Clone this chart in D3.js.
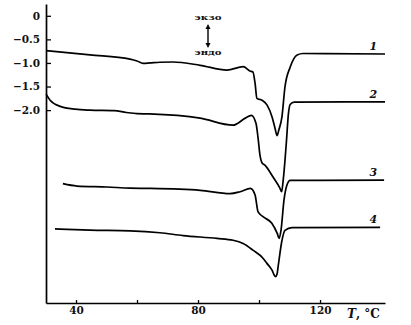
<!DOCTYPE html>
<html>
<head>
<meta charset="utf-8">
<script src="https://cdn.jsdelivr.net/npm/d3@7/dist/d3.min.js"></script>
<style>
  html, body { margin: 0; padding: 0; background: #fff; }
  svg { display: block; }
  .lbl { font-family: "DejaVu Serif", "Liberation Serif", serif; font-weight: bold; fill: #111; }
</style>
</head>
<body>
<script>
// ---- data (temperature, °C ; signal) ----
const curve1T = [30.2, 44.6, 57.7, 60.0, 62.0, 64.3, 67.5, 71.8, 80.7, 89.5, 94.8, 97.0, 98.0, 98.7, 99.3, 101.0, 102.6, 104.3, 105.3, 105.9, 106.5, 107.5, 108.5, 110.2, 112.5, 114.4, 141.3];
const curve1V = [-0.74, -0.83, -0.92, -0.96, -1.01, -1.00, -0.985, -0.98, -1.05, -1.15, -1.08, -1.17, -1.19, -1.43, -1.75, -1.79, -1.89, -2.15, -2.40, -2.54, -2.42, -2.15, -1.51, -1.09, -0.83, -0.80, -0.81];

const curve2T = [30.2, 31.5, 34.8, 39.7, 44.6, 52.5, 56.5, 60.0, 64.0, 80.7, 91.5, 95.5, 97.5, 99.0, 99.7, 100.3, 101.0, 102.0, 104.6, 106.8, 107.4, 107.9, 109.0, 109.6, 110.2, 111.5, 141.3];
const curve2V = [-1.66, -1.79, -1.92, -1.98, -2.00, -2.01, -2.05, -2.075, -2.08, -2.17, -2.32, -2.17, -2.11, -2.28, -2.60, -2.95, -3.12, -3.17, -3.42, -3.65, -3.73, -3.50, -2.65, -2.10, -1.88, -1.83, -1.824];

const curve3T = [35.7, 40.3, 50.2, 57.7, 64.3, 80.7, 90.5, 93.8, 97.2, 98.7, 99.7, 101.3, 104.2, 106.0, 106.6, 107.2, 108.2, 109.1, 110.2, 141.0];
const curve3V = [-3.56, -3.61, -3.63, -3.655, -3.66, -3.70, -3.77, -3.73, -3.66, -3.80, -4.16, -4.26, -4.40, -4.62, -4.72, -4.55, -3.90, -3.60, -3.49, -3.485];

const curve4T = [33.1, 44.6, 57.7, 67.5, 75.1, 86.2, 91.5, 94.8, 98.0, 101.3, 102.6, 104.3, 105.0, 105.4, 105.9, 106.3, 107.5, 108.5, 110.8, 139.7];
const curve4V = [-4.52, -4.545, -4.56, -4.60, -4.66, -4.72, -4.76, -4.83, -4.97, -5.14, -5.25, -5.40, -5.50, -5.53, -5.48, -5.30, -4.77, -4.55, -4.49, -4.488];

const curveNames = ["1", "2", "3", "4"];
const xTickValues = [40, 60, 80, 100, 120];
const xTickLabels = ["40", "", "80", "", "120"];
const yTickValues = [0, -0.5, -1.0, -1.5, -2.0];
const yTickLabels = ["0", "\u22120.5", "\u22121.0", "\u22121.5", "\u22122.0"];
const xTitle = ["T", ", \u00B0C"];
const exoLabel = "\u044D\u043A\u0437\u043E";
const endoLabel = "\u044D\u043D\u0434\u043E";

// ---- drawing ----
const W = 411, H = 325;
const svg = d3.select("body").append("svg").attr("width", W).attr("height", H);

const x = d3.scaleLinear().domain([30.16, 141.3]).range([46, 385]);
const y = d3.scaleLinear().domain([0.25, -6.09]).range([4, 303]);

const series = [[curve1T, curve1V], [curve2T, curve2V], [curve3T, curve3V], [curve4T, curve4V]]
  .map(([t, v]) => t.map((tt, i) => [tt, v[i]]));

const line = d3.line().x(d => x(d[0])).y(d => y(d[1])).curve(d3.curveMonotoneX);

svg.append("g").selectAll("path").data(series).join("path")
  .attr("d", line).attr("fill", "none").attr("stroke", "#000")
  .attr("stroke-width", 1.7).attr("stroke-linejoin", "round");

// axes
const xAxis = d3.axisBottom(x).tickValues(xTickValues)
  .tickFormat((d, i) => xTickLabels[i]).tickSizeInner(-3).tickSizeOuter(0).tickPadding(4);
const gx = svg.append("g").attr("transform", `translate(0,${y(-6.09)})`).call(xAxis);

const yAxis = d3.axisLeft(y).tickValues(yTickValues)
  .tickFormat((d, i) => yTickLabels[i]).tickSizeInner(-5).tickSizeOuter(0).tickPadding(6);
const gy = svg.append("g").attr("transform", `translate(${x(30.16)},0)`).call(yAxis);

[gx, gy].forEach(g => {
  g.select(".domain").attr("stroke", "#000").attr("stroke-width", 1.7);
  g.selectAll(".tick line").attr("stroke", "#000").attr("stroke-width", 1.3);
  g.selectAll(".tick text").attr("class", "lbl").attr("font-size", 10.5).attr("fill", "#111");
});

// axis title
const tt = svg.append("text").attr("class", "lbl").attr("x", 347).attr("y", 318).attr("font-size", 12);
tt.append("tspan").attr("font-style", "italic").text(xTitle[0]);
tt.append("tspan").text(xTitle[1]);

// curve numbers
const labelPos = [[137.5, -0.8], [137.5, -1.824], [137.5, -3.485], [137.5, -4.488]];
svg.append("g").selectAll("text").data(curveNames).join("text")
  .attr("class", "lbl").attr("font-style", "italic").attr("font-size", 11)
  .attr("text-anchor", "middle")
  .attr("x", (d, i) => x(labelPos[i][0])).attr("y", (d, i) => y(labelPos[i][1]) - 4)
  .text(d => d);

// exo / endo indicator
const ax = 208;
svg.append("text").attr("class", "lbl").attr("font-size", 8).attr("text-anchor", "middle")
  .attr("x", ax).attr("y", 20).attr("textLength", 27).attr("lengthAdjust", "spacingAndGlyphs").text(exoLabel);
svg.append("text").attr("class", "lbl").attr("font-size", 8).attr("text-anchor", "middle")
  .attr("x", ax).attr("y", 55).attr("textLength", 27).attr("lengthAdjust", "spacingAndGlyphs").text(endoLabel);
svg.append("line").attr("x1", ax).attr("x2", ax).attr("y1", 27).attr("y2", 45)
  .attr("stroke", "#000").attr("stroke-width", 1.4);
svg.append("path").attr("d", `M${ax},24 L${ax-2.5},29 L${ax+2.5},29 Z`).attr("fill", "#000");
svg.append("path").attr("d", `M${ax},48 L${ax-2.5},43 L${ax+2.5},43 Z`).attr("fill", "#000");
</script>
</body>
</html>
